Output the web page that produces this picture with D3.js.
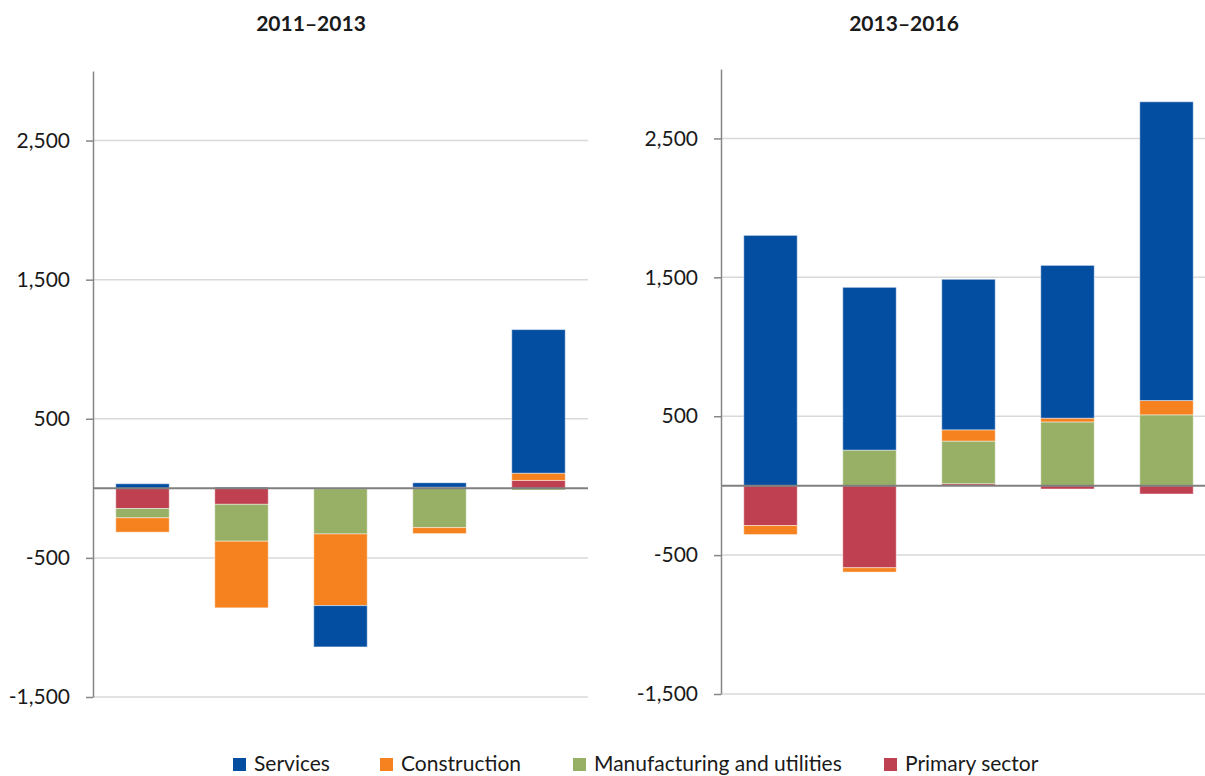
<!DOCTYPE html>
<html>
<head>
<meta charset="utf-8">
<script src="https://cdn.jsdelivr.net/npm/d3@7"></script>
<style>
  body { margin: 0; background: #fff; }
  text { font-family: Lato, "Open Sans", sans-serif; fill: #1a1a1a; }
</style>
</head>
<body>
<div id="chart"></div>
<script>
// five unlabelled bars per period
const bars = [1, 2, 3, 4, 5];
const periods = ["2011\u20132013", "2013\u20132016"];
const seriesNames = ["Services", "Construction", "Manufacturing and utilities", "Primary sector"];
const yTicks = [-1500, -500, 500, 1500, 2500];

// 2011-2013
const services1 = [33, 8, -297, 32, 1032];
const construction1 = [-103, -479, -515, -43, 52];
const manufacturing1 = [-67, -265, -325, -282, -12];
const primary1 = [-145, -115, -3, 8, 57];

// 2013-2016
const services2 = [1802, 1172, 1084, 1100, 2151];
const construction2 = [-65, -31, 81, 27, 103];
const manufacturing2 = [0, 256, 307, 459, 510];
const primary2 = [-287, -591, 14, -24, -60];

const colors = {
  "Services": "#044ea2",
  "Construction": "#f5821f",
  "Manufacturing and utilities": "#97b065",
  "Primary sector": "#bf4050"
};

let w = 1205,
    h = 776;

let svg = d3.select("#chart")
            .append("svg")
            .attr("width", w)
            .attr("height", h);

// the thousands separator and a plain hyphen for negatives, like the original
let locale = d3.formatLocale({decimal: ".", thousands: ",", grouping: [3], currency: ["", ""], minus: "-"});
let fmt = locale.format(",");

// stack from zero outwards: primary nearest, services outermost
let stackKeys = seriesNames.slice().reverse();

let panels = [
  {title: periods[0], left: 93, top: 71, bottom: 697, titleX: 311,
   values: [services1, construction1, manufacturing1, primary1]},
  {title: periods[1], left: 721, top: 69, bottom: 694, titleX: 904,
   values: [services2, construction2, manufacturing2, primary2]}
];

panels.forEach(p => {
  let plotW = 495;

  let rows = bars.map((b, i) => {
    let row = {bar: b};
    seriesNames.forEach((name, j) => { row[name] = p.values[j][i]; });
    return row;
  });

  let x = d3.scaleBand()
            .domain(bars)
            .range([p.left, p.left + plotW])
            .paddingInner(0.46)
            .paddingOuter(0.23);

  let y = d3.scaleLinear()
            .domain([-1500, 3000])
            .range([p.bottom, p.top]);

  let g = svg.append("g");

  // title
  g.append("text")
   .attr("x", p.titleX)
   .attr("y", 31)
   .attr("text-anchor", "middle")
   .style("font-size", "21px")
   .style("font-weight", "bold")
   .text(p.title);

  // gridlines
  g.selectAll(".grid")
   .data(yTicks)
   .enter()
   .append("line")
   .attr("x1", p.left)
   .attr("x2", p.left + plotW)
   .attr("y1", d => y(d))
   .attr("y2", d => y(d))
   .style("stroke", "#d9d9d9")
   .style("stroke-width", 1.5);

  let stacked = d3.stack()
                  .keys(stackKeys)
                  .offset(d3.stackOffsetDiverging)(rows);

  g.selectAll(".layer")
   .data(stacked)
   .enter()
   .append("g")
   .style("fill", d => colors[d.key])
   .selectAll("rect")
   .data(d => d)
   .enter()
   .append("rect")
   .attr("x", d => x(d.data.bar))
   .attr("width", x.bandwidth())
   .attr("y", d => y(Math.max(d[0], d[1])))
   .attr("height", d => Math.abs(y(d[0]) - y(d[1])))
   .style("stroke", "rgba(255,255,255,0.45)")
   .style("stroke-width", 1);

  // zero line on top of the bars
  g.append("line")
   .attr("x1", p.left)
   .attr("x2", p.left + plotW)
   .attr("y1", y(0))
   .attr("y2", y(0))
   .style("stroke", "#7f7f7f")
   .style("stroke-width", 2);

  let axis = g.append("g")
              .attr("transform", `translate(${p.left},0)`)
              .call(d3.axisLeft(y)
                      .tickValues(yTicks)
                      .tickSize(7)
                      .tickSizeOuter(0)
                      .tickPadding(16)
                      .tickFormat(fmt));

  axis.select(".domain").style("stroke", "#868686").style("stroke-width", 1.5);
  axis.selectAll(".tick line").style("stroke", "#868686").style("stroke-width", 1.5);
  axis.selectAll(".tick text")
      .style("font-size", "21px")
      .style("font-family", "Lato, 'Open Sans', sans-serif")
      .style("fill", "#1a1a1a");
});

// legend
let legendX = [233, 380, 573, 884];

let legend = svg.selectAll(".legend")
                .data(seriesNames)
                .enter()
                .append("g")
                .attr("transform", (d, i) => `translate(${legendX[i]},0)`);

legend.append("rect")
      .attr("x", 0)
      .attr("y", 758)
      .attr("width", 13)
      .attr("height", 13)
      .style("fill", d => colors[d]);

legend.append("text")
      .attr("x", 21)
      .attr("y", 771)
      .style("font-size", "21px")
      .text(d => d);
</script>
</body>
</html>
